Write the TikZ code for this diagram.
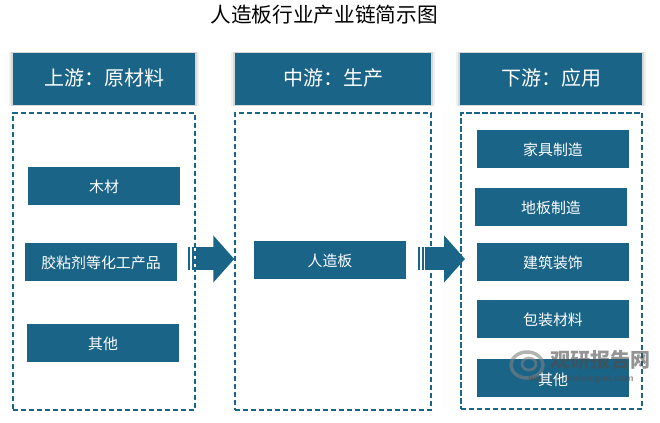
\documentclass[tikz,border=0pt]{standalone}
\usepackage{fontspec}
\setmainfont{Noto Sans CJK SC}
\usetikzlibrary{arrows.meta,shadows}
\definecolor{chainblue}{HTML}{1A6488}
\tikzset{
  headbox/.style={fill=chainblue,text=white,font=\fontsize{15}{15}\selectfont,inner sep=0pt,minimum height=39pt,
    text height=1em,text depth=.08em,
    general shadow={fill=black,opacity=0.06,shadow scale=1.04},
    general shadow={fill=black,opacity=0.10,shadow scale=1.02}},
  framebox/.style={draw=chainblue,line width=1.1pt,dash pattern=on 4pt off 2pt,inner sep=0pt},
  itembox/.style={fill=chainblue,text=white,font=\fontsize{11.2}{11.2}\selectfont,inner sep=0pt,minimum width=114pt,minimum height=28.5pt,
    text height=1em,text depth=.08em},
  stripe/.style={fill=chainblue,inner sep=0pt,minimum width=1.8pt,minimum height=17.25pt},
  blockarrow/.style={draw=chainblue,line width=17.25pt,-{Triangle[length=15.75pt,width=34.5pt]}},
  markline/.style={gray,line width=2.6pt},
  marktext/.style={text=gray!60!black}
}
\begin{document}
\begin{tikzpicture}[x=0.75pt,y=-0.75pt]
\useasboundingbox (0,0) rectangle (660,423);
\node (title) at (324,15) {\fontsize{15.5}{15.5}\selectfont 人造板行业产业链简示图};
% headers
\node[headbox,minimum width=136.5pt] (headup) at (104,79) {上游：原材料};
\node[headbox,minimum width=147pt] (headmid) at (333,79) {中游：生产};
\node[headbox,minimum width=136.5pt] (headdown) at (551,79) {下游：应用};
% frames
\node[framebox,minimum width=136.5pt,minimum height=222.75pt] (frameup) at (104,261.5) {};
\node[framebox,minimum width=147pt,minimum height=222.75pt] (framemid) at (333,261.5) {};
\node[framebox,minimum width=136pt,minimum height=222pt] (framedown) at (551.5,261) {};
% left items
\node[itembox] (wood) at (104,186) {木材};
\node[itembox] (glue) at (101,262) {胶粘剂等化工产品};
\node[itembox] (otherup) at (103,343) {其他};
% middle item
\node[itembox] (board) at (330,260) {人造板};
% right items
\node[itembox] (furniture) at (553,149) {家具制造};
\node[itembox] (floor) at (551,207) {地板制造};
\node[itembox] (deco) at (553,262.5) {建筑装饰};
\node[itembox] (pack) at (553,319) {包装材料};
\node[itembox] (otherdown) at (553,378) {};
% watermark
\begin{scope}[opacity=0.6]
\draw[markline] (527,365) ellipse (16 and 13);
\draw[markline,line width=2pt] (529,364) ellipse (7 and 6);
\node[marktext,font=\fontsize{15}{15}\selectfont\bfseries] (markname) at (600,360) {观研报告网};
\node[marktext,font=\fontsize{7.6}{7.6}\selectfont\sffamily\bfseries] (markurl) at (581,379) {www.chinabaogao.com};
\end{scope}
\node[text=white,font=\fontsize{11.2}{11.2}\selectfont,text height=1em,text depth=.08em] (otherlabel) at (553,379) {其他};
% arrows
\coordinate (startone) at (196,259);
\coordinate (starttwo) at (425,259);
\coordinate (endtwo) at (465,259);
\node[stripe] (stripea) at (189,259) {};
\node[stripe] (stripeb) at (193,259) {};
\node[stripe] (stripec) at (419,259) {};
\node[stripe] (striped) at (423,259) {};
\draw[blockarrow] (startone) -- (framemid.west |- startone);
\draw[blockarrow] (starttwo) -- (endtwo);
\end{tikzpicture}
\end{document}
